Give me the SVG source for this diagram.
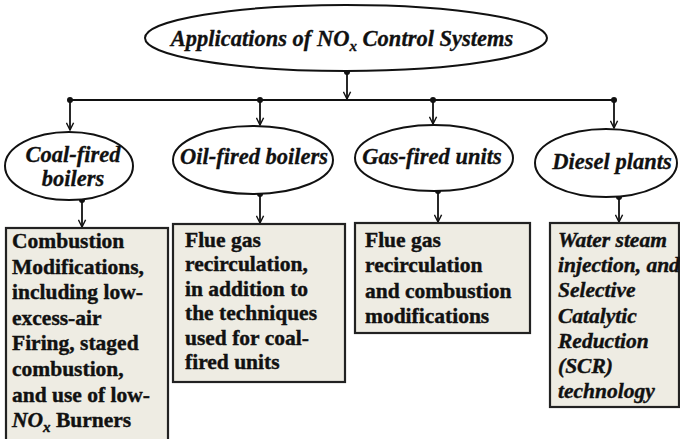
<svg xmlns="http://www.w3.org/2000/svg" width="680" height="439" viewBox="0 0 680 439">
<style>
.ell{fill:#fff;stroke:#111;stroke-width:2}
.box{fill:#eeece3;stroke:#222;stroke-width:2.2}
.lbl{font-family:"Liberation Serif","Times New Roman",serif;font-weight:bold;font-style:italic;font-size:22.5px;fill:#111;stroke:#111;stroke-width:0.3}
.txt{font-family:"Liberation Serif","Times New Roman",serif;font-weight:bold;font-size:21.5px;fill:#111;stroke:#111;stroke-width:0.4}
.it{font-style:italic}
.con{stroke:#111;stroke-width:1.8;fill:none}
.dot{fill:#111}
</style>
<defs>
<marker id="ah" viewBox="0 0 10 10" refX="9" refY="5" markerWidth="9" markerHeight="9" markerUnits="userSpaceOnUse" orient="auto">
<path d="M1,1 L9,5 L1,9" fill="none" stroke="#111" stroke-width="1.6"/>
</marker>
</defs>
<g id="connectors">
<path class="con" d="M347,72 V99" marker-end="url(#ah)"/>
<path class="con" d="M70,100 H614"/>
<path class="con" d="M70,100 V130" marker-end="url(#ah)"/>
<path class="con" d="M260,100 V125" marker-end="url(#ah)"/>
<path class="con" d="M433,100 V124" marker-end="url(#ah)"/>
<path class="con" d="M614,100 V128" marker-end="url(#ah)"/>
<path class="con" d="M82,200 V227" marker-end="url(#ah)"/>
<path class="con" d="M260,194 V223" marker-end="url(#ah)"/>
<path class="con" d="M438,191 V222" marker-end="url(#ah)"/>
<path class="con" d="M619,197 V222" marker-end="url(#ah)"/>
<circle class="dot" cx="347" cy="72" r="3"/>
<circle class="dot" cx="70" cy="100" r="3"/>
<circle class="dot" cx="260" cy="100" r="3"/>
<circle class="dot" cx="433" cy="100" r="3"/>
<circle class="dot" cx="614" cy="100" r="3"/>
<circle class="dot" cx="82" cy="200" r="3"/>
<circle class="dot" cx="260" cy="194" r="3"/>
<circle class="dot" cx="438" cy="191" r="3"/>
<circle class="dot" cx="619" cy="197" r="3"/>
</g>
<g id="title">
<ellipse class="ell" cx="346" cy="38" rx="201" ry="33"/>
<text class="lbl" x="342" y="46" text-anchor="middle">Applications of NO<tspan font-size="15" dy="5">x</tspan><tspan dy="-5"> Control Systems</tspan></text>
</g>
<g id="coal">
<ellipse class="ell" cx="69" cy="166" rx="64" ry="34"/>
<text class="lbl" x="73" y="162" text-anchor="middle">Coal-fired</text>
<text class="lbl" x="73" y="186" text-anchor="middle">boilers</text>
</g>
<g id="oil">
<ellipse class="ell" cx="253" cy="160" rx="80" ry="34"/>
<text class="lbl" x="254" y="164" text-anchor="middle">Oil-fired boilers</text>
</g>
<g id="gas">
<ellipse class="ell" cx="434" cy="158" rx="79" ry="33"/>
<text class="lbl" x="432" y="164" text-anchor="middle">Gas-fired units</text>
</g>
<g id="diesel">
<ellipse class="ell" cx="606" cy="163" rx="71" ry="34"/>
<text class="lbl" x="612" y="169" text-anchor="middle">Diesel plants</text>
</g>
<g id="box1">
<rect class="box" x="6" y="228" width="162" height="220"/>
<text class="txt" x="12" y="248">Combustion</text>
<text class="txt" x="12" y="273.6">Modifications,</text>
<text class="txt" x="12" y="299.2">including low-</text>
<text class="txt" x="12" y="324.8">excess-air</text>
<text class="txt" x="12" y="350.4">Firing, staged</text>
<text class="txt" x="12" y="376">combustion,</text>
<text class="txt" x="12" y="401.6">and use of low-</text>
<text class="txt" x="12" y="427.2"><tspan class="it">NO</tspan><tspan class="it" font-size="15" dy="5">x</tspan><tspan dy="-5"> Burners</tspan></text>
</g>
<g id="box2">
<rect class="box" x="173" y="224" width="172" height="158"/>
<text class="txt" x="185" y="247">Flue gas</text>
<text class="txt" x="185" y="271.4">recirculation,</text>
<text class="txt" x="185" y="295.8">in addition to</text>
<text class="txt" x="185" y="320.2">the techniques</text>
<text class="txt" x="185" y="344.6">used for coal-</text>
<text class="txt" x="185" y="369">fired units</text>
</g>
<g id="box3">
<rect class="box" x="355" y="223" width="175" height="110"/>
<text class="txt" x="365" y="247">Flue gas</text>
<text class="txt" x="365" y="272.3">recirculation</text>
<text class="txt" x="365" y="297.6">and combustion</text>
<text class="txt" x="365" y="323">modifications</text>
</g>
<g id="box4">
<rect class="box" x="550" y="223" width="129" height="184"/>
<text class="txt it" x="558" y="247">Water steam</text>
<text class="txt it" x="558" y="272.2">injection, and</text>
<text class="txt it" x="558" y="297.4">Selective</text>
<text class="txt it" x="558" y="322.6">Catalytic</text>
<text class="txt it" x="558" y="347.8">Reduction</text>
<text class="txt it" x="558" y="373">(SCR)</text>
<text class="txt it" x="558" y="398">technology</text>
</g>
</svg>
